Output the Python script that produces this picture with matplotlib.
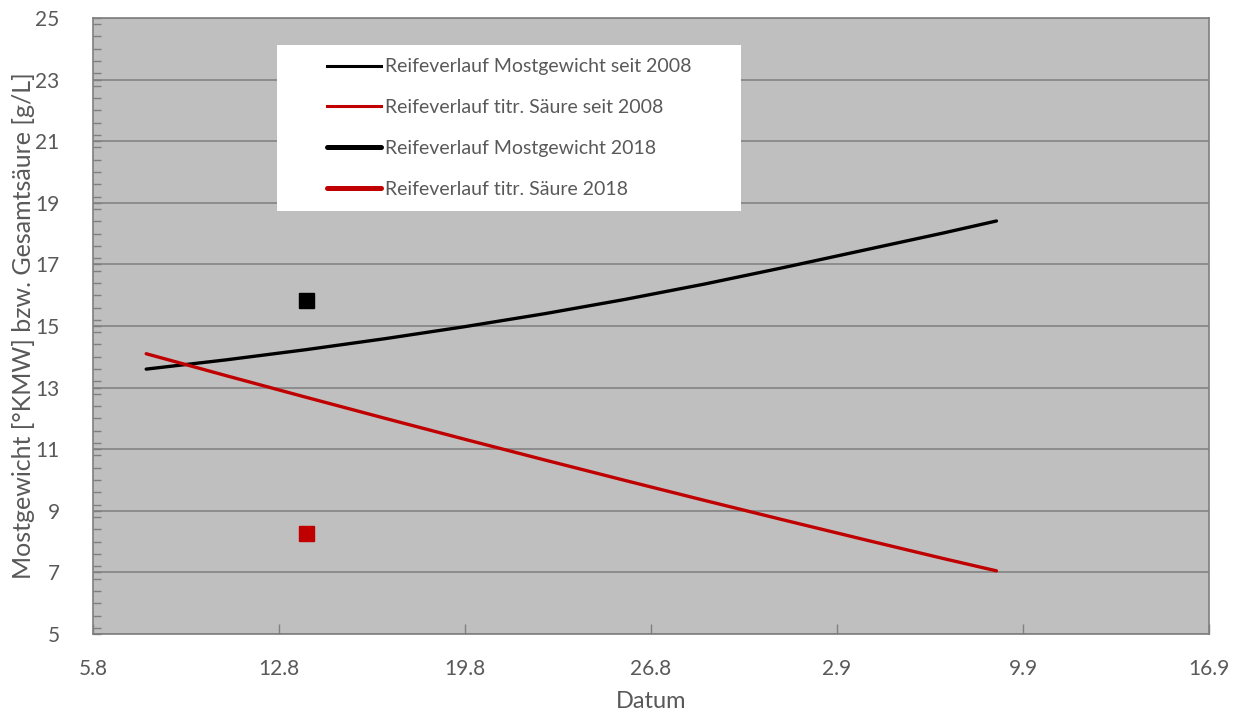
import datetime as dt
import matplotlib
matplotlib.use("Agg")
import matplotlib.pyplot as plt
import matplotlib.dates as mdates
from matplotlib.lines import Line2D
from matplotlib.patches import Rectangle
from matplotlib.ticker import MultipleLocator, FixedLocator, FuncFormatter

# Reifeverlauf seit 2008 (Trendlinien), Werte je Datum
tage_trend = ["2018-08-07", "2018-08-10", "2018-08-13", "2018-08-16", "2018-08-19",
              "2018-08-22", "2018-08-25", "2018-08-28", "2018-08-31", "2018-09-03",
              "2018-09-06", "2018-09-08"]
mostgewicht_seit_2008 = [13.60, 13.90, 14.23, 14.59, 14.98, 15.40, 15.86, 16.36,
                         16.90, 17.46, 18.02, 18.41]
saeure_seit_2008 = [14.10, 13.39, 12.69, 12.00, 11.32, 10.65, 9.99, 9.34,
                    8.70, 8.07, 7.45, 7.05]

# Messung 2018
tage_2018 = ["2018-08-13"]
mostgewicht_2018 = [15.85]
saeure_2018 = [8.27]

x_ticks = ["2018-08-05", "2018-08-12", "2018-08-19", "2018-08-26",
           "2018-09-02", "2018-09-09", "2018-09-16"]
y_ticks = [5, 7, 9, 11, 13, 15, 17, 19, 21, 23, 25]

def to_dates(values):
    return [dt.datetime.strptime(v, "%Y-%m-%d") for v in values]

plt.rcParams['font.family'] = ['Lato', 'DejaVu Sans']
grau_text = "#595959"
rot = "#c00000"

fig = plt.figure(figsize=(12.39, 7.15), dpi=100)
ax = fig.add_axes([0.0751, 0.1133, 0.9007, 0.8615])
ax.set_facecolor("#bfbfbf")

ax.plot(to_dates(tage_trend), mostgewicht_seit_2008, color="black", lw=2.4,
        solid_capstyle="round", solid_joinstyle="round", zorder=3)
ax.plot(to_dates(tage_trend), saeure_seit_2008, color=rot, lw=2.4,
        solid_capstyle="round", solid_joinstyle="round", zorder=3)
ax.plot(to_dates(tage_2018), mostgewicht_2018, ls="none", marker="s",
        ms=10.8, color="black", zorder=4)
ax.plot(to_dates(tage_2018), saeure_2018, ls="none", marker="s",
        ms=10.8, color=rot, zorder=4)

xt = to_dates(x_ticks)
ax.set_xlim(xt[0], xt[-1])
ax.set_ylim(y_ticks[0], y_ticks[-1])
ax.set_xticks(xt)
ax.xaxis.set_major_formatter(FuncFormatter(
    lambda v, pos: "{}.{}".format(mdates.num2date(v).day, mdates.num2date(v).month)))
ax.yaxis.set_major_locator(FixedLocator(y_ticks))
ax.yaxis.set_minor_locator(MultipleLocator(0.4))

ax.grid(axis="y", which="major", color="#7f7f7f", lw=1.1, zorder=1)
for s in ax.spines.values():
    s.set_color("#7f7f7f")
    s.set_linewidth(1.2)

ax.tick_params(axis="x", direction="in", length=7, width=1, color="#7f7f7f",
               labelsize=15, labelcolor=grau_text, pad=18)
ax.tick_params(axis="y", which="major", direction="in", length=6, width=1,
               color="#7f7f7f", labelsize=15, labelcolor=grau_text, pad=24)
ax.tick_params(axis="y", which="minor", direction="in", length=6, width=1,
               color="#7f7f7f")

ax.set_xlabel("Datum", fontsize=17, color=grau_text, labelpad=9)
ax.set_ylabel("Mostgewicht [°KMW] bzw. Gesamtsäure [g/L]", fontsize=18,
              color=grau_text, labelpad=0)

# weißer Legendenkasten
ax.add_patch(Rectangle((0.1649, 0.6867), 0.4158, 0.2695, transform=ax.transAxes,
                       facecolor="white", edgecolor="none", zorder=5))

handles = [
    Line2D([], [], color="black", lw=2.2),
    Line2D([], [], color=rot, lw=2.2),
    Line2D([], [], color="black", lw=3.6, solid_capstyle="round"),
    Line2D([], [], color=rot, lw=3.6, solid_capstyle="round"),
]
labels = ["Reifeverlauf Mostgewicht seit 2008",
          "Reifeverlauf titr. Säure seit 2008",
          "Reifeverlauf Mostgewicht 2018",
          "Reifeverlauf titr. Säure 2018"]
leg = ax.legend(handles, labels, loc="upper left",
                bbox_to_anchor=(0.2097, 0.9345), frameon=False,
                fontsize=14, handlelength=2.75, handletextpad=0.25,
                labelspacing=1.22, borderpad=0, borderaxespad=0)
leg.set_zorder(6)
for t in leg.get_texts():
    t.set_color(grau_text)

fig.savefig("out.png", dpi=100)
